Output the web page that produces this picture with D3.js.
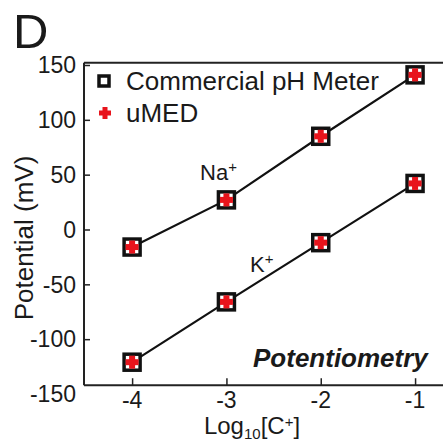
<!DOCTYPE html>
<html><head><meta charset="utf-8">
<script src="https://cdn.jsdelivr.net/npm/d3@7"></script>
<style>body{margin:0;background:#fff}svg{display:block}text{font-family:"Liberation Sans",Arial,sans-serif;fill:#1a1a1a}</style>
</head><body>
<script>
const xValues = [-4, -3, -2, -1];
const naValues = [-16, 27, 85, 141];
const kValues = [-121, -66, -12, 42];
const xTicks = [-4, -3, -2, -1];
const yTicks = [-150, -100, -50, 0, 50, 100, 150];
const xLimits = [-4.51, -0.6];
const yLimits = [-142, 152];

const W = 443, H = 442;
const svg = d3.select("body").append("svg").attr("width", W).attr("height", H);
const x = d3.scaleLinear().domain([-4.51, -0.6]).range([84, 452.8]);
const y = d3.scaleLinear().domain([-150, 150]).range([394, 65]);

// panel letter
svg.append("text").attr("x", 13).attr("y", 48).attr("font-size", 49).text("D");

// frame
const fr = svg.append("g").attr("stroke", "#222").attr("stroke-width", 2).attr("fill", "none");
fr.append("line").attr("x1", x(xLimits[0])).attr("x2", x(xLimits[0])).attr("y1", y(yLimits[0])).attr("y2", y(yLimits[1]));
fr.append("line").attr("x1", x(xLimits[0])).attr("x2", x(xLimits[1])).attr("y1", y(yLimits[0])).attr("y2", y(yLimits[0]));
fr.append("line").attr("x1", x(xLimits[0])).attr("x2", x(xLimits[1])).attr("y1", y(yLimits[1])).attr("y2", y(yLimits[1]));

// y axis
const yAxis = d3.axisRight(y).tickValues(yTicks.filter(v => v > yLimits[0] && v < yLimits[1])).tickSize(6).tickFormat("");
svg.append("g").attr("transform", `translate(${x(xLimits[0])},0)`).call(yAxis)
  .call(g => { g.select(".domain").remove(); g.selectAll("line").attr("stroke", "#222").attr("stroke-width", 1.5); });
svg.append("g").selectAll("text").data(yTicks).join("text")
  .attr("x", 76).attr("y", d => y(d)).attr("dy", "0.36em").attr("text-anchor", "end")
  .attr("font-size", 23).text(d => d);

// x axis
const xAxis = d3.axisTop(x).tickValues(xTicks).tickSize(7).tickFormat("");
svg.append("g").attr("transform", `translate(0,${y(yLimits[0])})`).call(xAxis)
  .call(g => { g.select(".domain").remove(); g.selectAll("line").attr("stroke", "#222").attr("stroke-width", 1.5); });
svg.append("g").selectAll("text").data(xTicks).join("text")
  .attr("x", d => x(d)).attr("y", 408).attr("text-anchor", "middle")
  .attr("font-size", 23).text(d => d);

// axis titles
const xl = svg.append("text").attr("x", 252).attr("y", 434).attr("text-anchor", "middle").attr("font-size", 24);
xl.append("tspan").text("Log");
xl.append("tspan").attr("font-size", 15).attr("dy", 5).text("10");
xl.append("tspan").attr("dy", -5).text("[C");
xl.append("tspan").attr("font-size", 15).attr("dy", -7).text("+");
xl.append("tspan").attr("dy", 7).text("]");

svg.append("text").attr("transform", "translate(33,238) rotate(-90)").attr("text-anchor", "middle")
  .attr("font-size", 26).text("Potential (mV)");

// lines
const line = d3.line().x(d => x(d[0])).y(d => y(d[1]));
[naValues, kValues].forEach(vals => {
  svg.append("path").datum(xValues.map((v, i) => [v, vals[i]])).attr("d", line)
    .attr("fill", "none").attr("stroke", "#111").attr("stroke-width", 2.2);
});

// markers
function square(g, cx, cy, s, sw) {
  g.append("rect").attr("x", cx - s / 2).attr("y", cy - s / 2).attr("width", s).attr("height", s)
    .attr("fill", "#fff").attr("stroke", "#111").attr("stroke-width", sw);
}
function cross(g, cx, cy, len, w) {
  g.append("rect").attr("x", cx - len / 2).attr("y", cy - w / 2).attr("width", len).attr("height", w).attr("fill", "#e8141c");
  g.append("rect").attr("x", cx - w / 2).attr("y", cy - len / 2).attr("width", w).attr("height", len).attr("fill", "#e8141c");
}
const mk = svg.append("g");
[naValues, kValues].forEach(vals => {
  xValues.forEach((v, i) => {
    square(mk, x(v), y(vals[i]), 16, 3.5);
    cross(mk, x(v), y(vals[i]), 13, 6);
  });
});

// legend
square(svg, 104, 81, 10, 3.5);
cross(svg, 105, 113, 12, 5);
svg.append("text").attr("x", 126).attr("y", 90).attr("font-size", 26).text("Commercial pH Meter");
svg.append("text").attr("x", 126).attr("y", 122).attr("font-size", 26).text("uMED");

// ion labels
const na = svg.append("text").attr("x", 200).attr("y", 180).attr("font-size", 22);
na.append("tspan").text("Na");
na.append("tspan").attr("font-size", 15).attr("dy", -8).text("+");
const k = svg.append("text").attr("x", 250).attr("y", 272).attr("font-size", 22);
k.append("tspan").text("K");
k.append("tspan").attr("font-size", 15).attr("dy", -8).text("+");

svg.append("text").attr("x", 253).attr("y", 367).attr("font-size", 26)
  .attr("font-weight", "bold").attr("font-style", "italic").text("Potentiometry");
</script>
</body></html>
